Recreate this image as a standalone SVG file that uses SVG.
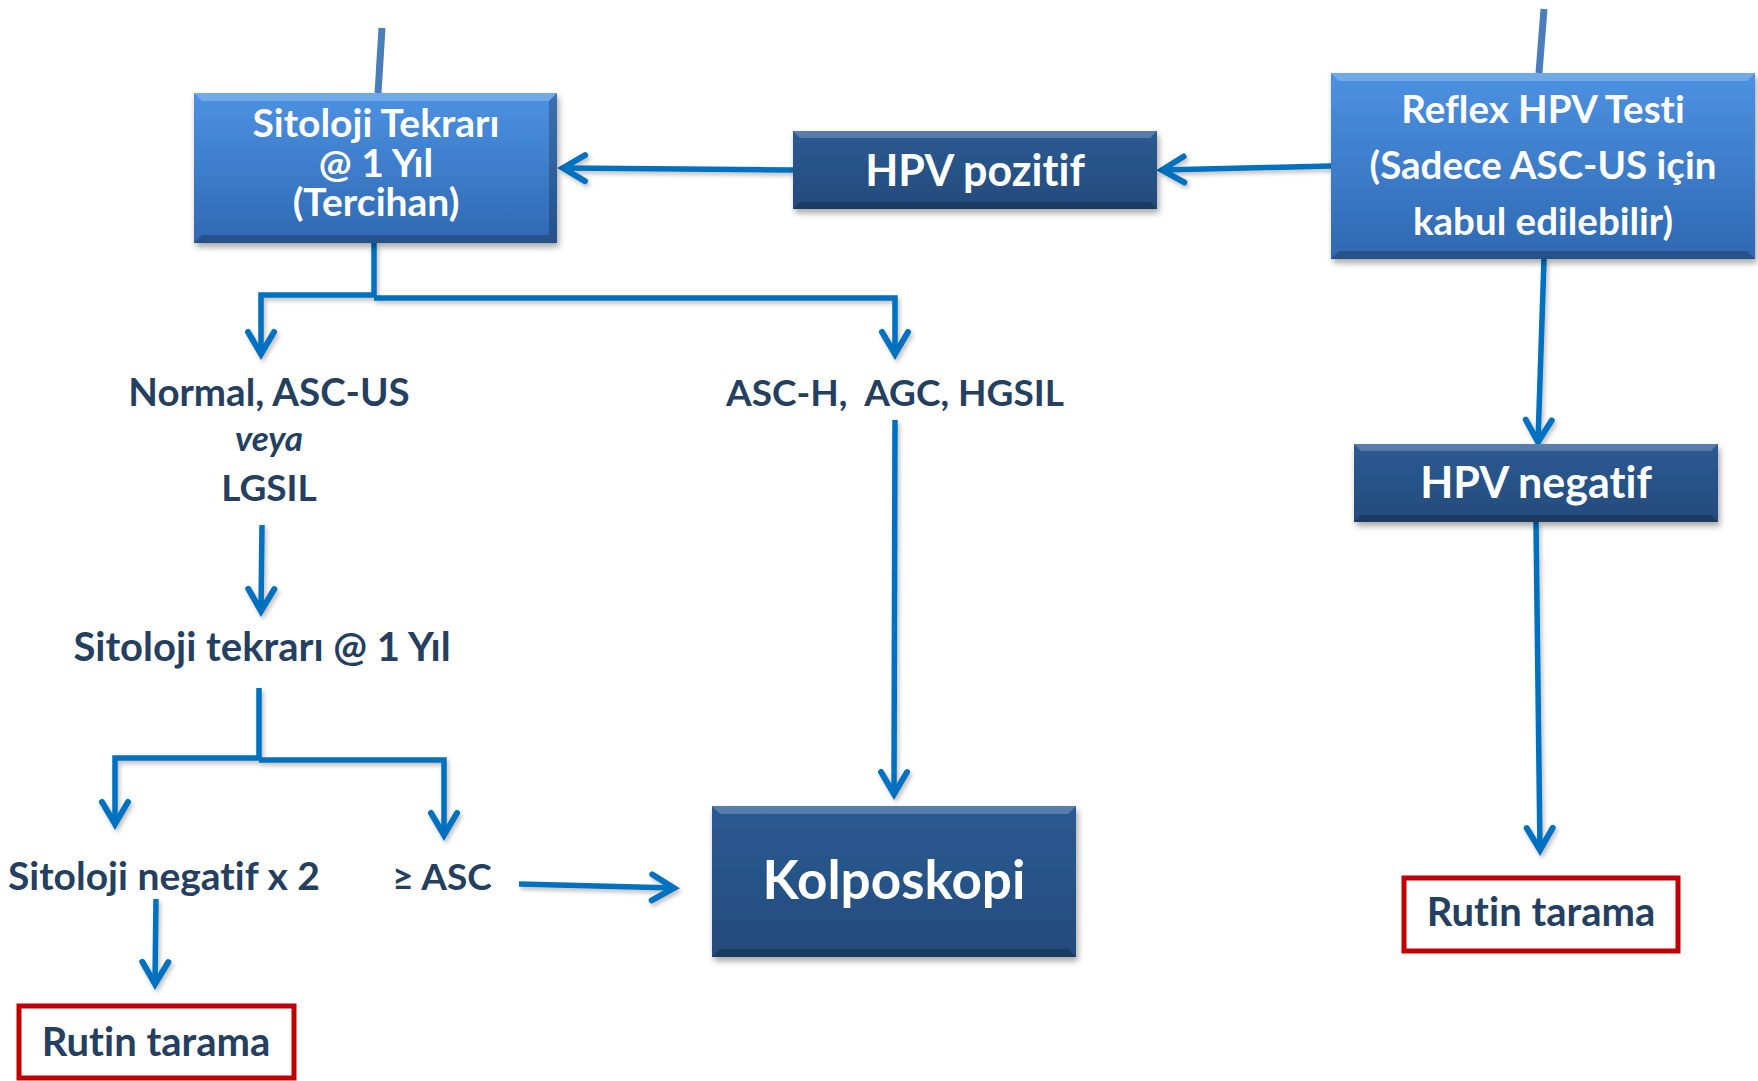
<svg xmlns="http://www.w3.org/2000/svg" width="1758" height="1081" viewBox="0 0 1758 1081">
  <defs>
    <linearGradient id="gradLight" x1="0" y1="0" x2="0" y2="1">
      <stop offset="0" stop-color="#4c92e2"/>
      <stop offset="1" stop-color="#2f68b2"/>
    </linearGradient>
    <linearGradient id="gradDark" x1="0" y1="0" x2="0" y2="1">
      <stop offset="0" stop-color="#2b5a92"/>
      <stop offset="1" stop-color="#244b7c"/>
    </linearGradient>
    <filter id="boxShadow" x="-10%" y="-10%" width="125%" height="130%">
      <feDropShadow dx="2" dy="4" stdDeviation="3" flood-color="#000" flood-opacity="0.35"/>
    </filter>
    <filter id="lineShadow" x="-5%" y="-5%" width="110%" height="110%">
      <feDropShadow dx="2" dy="3" stdDeviation="2" flood-color="#000" flood-opacity="0.25"/>
    </filter>
    <marker id="chev" markerUnits="userSpaceOnUse" markerWidth="40" markerHeight="40" viewBox="-30 -20 40 40" refX="0" refY="0" orient="auto" overflow="visible">
      <path d="M-22,-13 L0,0 L-22,13" fill="none" stroke="#0070c0" stroke-width="6" stroke-linecap="round" stroke-linejoin="miter"/>
    </marker>
  </defs>
  <style>
    .conn { fill: none; stroke: #0070c0; stroke-width: 5.5; stroke-linejoin: miter; }
    .stub { fill: none; stroke: #4a7ebb; stroke-width: 7; }
    .hi { fill: #ffffff; opacity: 0.22; }
    .lo { fill: #000000; opacity: 0.22; }
    text { font-variant-ligatures: none; font-feature-settings: "liga" 0, "dlig" 0; }
    .boxtxt { font-family: Lato, "Open Sans", sans-serif; font-weight: bold; fill: #ffffff; text-anchor: middle; }
    .lbl { font-family: Lato, "Open Sans", sans-serif; font-weight: bold; fill: #243f60; text-anchor: middle; }
    .red { fill: #ffffff; stroke: #c00000; stroke-width: 5; }
  </style>

  <rect width="1758" height="1081" fill="#ffffff"/>

  <!-- connectors -->
  <g id="connectors">
    <line class="stub" x1="382" y1="28" x2="378" y2="93"/>
    <line class="stub" x1="1544" y1="9" x2="1539" y2="73"/>
    <g filter="url(#lineShadow)">
      <path class="conn" d="M1331,166 L1162,170" marker-end="url(#chev)"/>
      <path class="conn" d="M793,170 L563,168" marker-end="url(#chev)"/>
      <path class="conn" d="M374,243 L374,295 L261,295 L261,354" marker-end="url(#chev)"/>
      <path class="conn" d="M374,298 L895,298 L895,354" marker-end="url(#chev)"/>
      <path class="conn" d="M895,420 L894,794" marker-end="url(#chev)"/>
      <path class="conn" d="M262,525 L261,611" marker-end="url(#chev)"/>
      <path class="conn" d="M259,688 L259,758 L115,758 L115,824" marker-end="url(#chev)"/>
      <path class="conn" d="M259,760 L444,760 L444,835" marker-end="url(#chev)"/>
      <path class="conn" d="M156,899 L155,984" marker-end="url(#chev)"/>
      <path class="conn" d="M519,884 L674,888" marker-end="url(#chev)"/>
      <path class="conn" d="M1544,259 L1538,442" marker-end="url(#chev)"/>
      <path class="conn" d="M1536,522 L1540,850" marker-end="url(#chev)"/>
    </g>
  </g>

  <!-- Sitoloji Tekrarı @ 1 Yıl (Tercihan) -->
  <g id="node-sitoloji-tekrari">
    <g filter="url(#boxShadow)">
      <rect x="194" y="93" width="363" height="150" fill="url(#gradLight)"/>
    </g>
    <polygon class="hi" points="194,93 557,93 549,101 202,101"/>
    <polygon class="lo" points="194,243 557,243 549,235 202,235"/>
    <polygon class="lo" points="557,93 557,243 549,235 549,101" opacity="0.12"/>
    <text class="boxtxt" x="376" y="137" font-size="39">Sitoloji Tekrarı</text>
    <text class="boxtxt" x="376" y="177" font-size="39">@ 1 Yıl</text>
    <text class="boxtxt" x="376" y="216" font-size="39">(Tercihan)</text>
  </g>

  <!-- HPV pozitif -->
  <g id="node-hpv-pozitif">
    <g filter="url(#boxShadow)">
      <rect x="793" y="131" width="364" height="78" fill="url(#gradDark)"/>
    </g>
    <polygon class="hi" points="793,131 1157,131 1150,138 800,138"/>
    <polygon class="lo" points="793,209 1157,209 1150,202 800,202"/>
    <text class="boxtxt" x="975" y="186" font-size="43">HPV pozitif</text>
  </g>

  <!-- Reflex HPV Testi -->
  <g id="node-reflex-hpv">
    <g filter="url(#boxShadow)">
      <rect x="1331" y="73" width="424" height="186" fill="url(#gradLight)"/>
    </g>
    <polygon class="hi" points="1331,73 1755,73 1747,81 1339,81"/>
    <polygon class="lo" points="1331,259 1755,259 1747,251 1339,251"/>
    <text class="boxtxt" x="1543" y="123" font-size="38.5">Reflex HPV Testi</text>
    <text class="boxtxt" x="1543" y="179" font-size="38.5">(Sadece ASC-US için</text>
    <text class="boxtxt" x="1543" y="235" font-size="38.5">kabul edilebilir)</text>
  </g>

  <!-- Normal, ASC-US veya LGSIL -->
  <g id="node-normal">
    <text class="lbl" x="269" y="406" font-size="38.5">Normal, ASC-US</text>
    <text class="lbl" x="269" y="451" font-size="35" font-weight="normal" font-style="italic">veya</text>
    <text class="lbl" x="269" y="501" font-size="37">LGSIL</text>
  </g>

  <!-- ASC-H, AGC, HGSIL -->
  <g id="node-asch">
    <text class="lbl" x="895" y="406" font-size="37" xml:space="preserve">ASC-H,  AGC, HGSIL</text>
  </g>

  <!-- Sitoloji tekrarı @ 1 Yıl -->
  <g id="node-sitoloji-1yil">
    <text class="lbl" x="262" y="661" font-size="40">Sitoloji tekrarı @ 1 Yıl</text>
  </g>

  <!-- Sitoloji negatif x 2 -->
  <g id="node-negatif-x2">
    <text class="lbl" x="164" y="890" font-size="39">Sitoloji negatif x 2</text>
  </g>

  <!-- ≥ ASC -->
  <g id="node-asc">
    <text class="lbl" x="442" y="890" font-size="37">≥ ASC</text>
  </g>

  <!-- Kolposkopi -->
  <g id="node-kolposkopi">
    <g filter="url(#boxShadow)">
      <rect x="712" y="806" width="364" height="151" fill="url(#gradDark)"/>
    </g>
    <polygon class="hi" points="712,806 1076,806 1068,814 720,814"/>
    <polygon class="lo" points="712,957 1076,957 1068,949 720,949"/>
    <text class="boxtxt" x="894" y="899" font-size="53">Kolposkopi</text>
  </g>

  <!-- HPV negatif -->
  <g id="node-hpv-negatif">
    <g filter="url(#boxShadow)">
      <rect x="1354" y="444" width="364" height="78" fill="url(#gradDark)"/>
    </g>
    <polygon class="hi" points="1354,444 1718,444 1711,451 1361,451"/>
    <polygon class="lo" points="1354,522 1718,522 1711,515 1361,515"/>
    <text class="boxtxt" x="1536" y="498" font-size="43">HPV negatif</text>
  </g>

  <!-- Rutin tarama (right) -->
  <g id="node-rutin-right">
    <rect class="red" x="1404" y="878" width="274" height="73"/>
    <text class="lbl" x="1541" y="926" font-size="40">Rutin tarama</text>
  </g>

  <!-- Rutin tarama (left) -->
  <g id="node-rutin-left">
    <rect class="red" x="19" y="1006" width="275" height="72"/>
    <text class="lbl" x="156" y="1056" font-size="40">Rutin tarama</text>
  </g>
</svg>
